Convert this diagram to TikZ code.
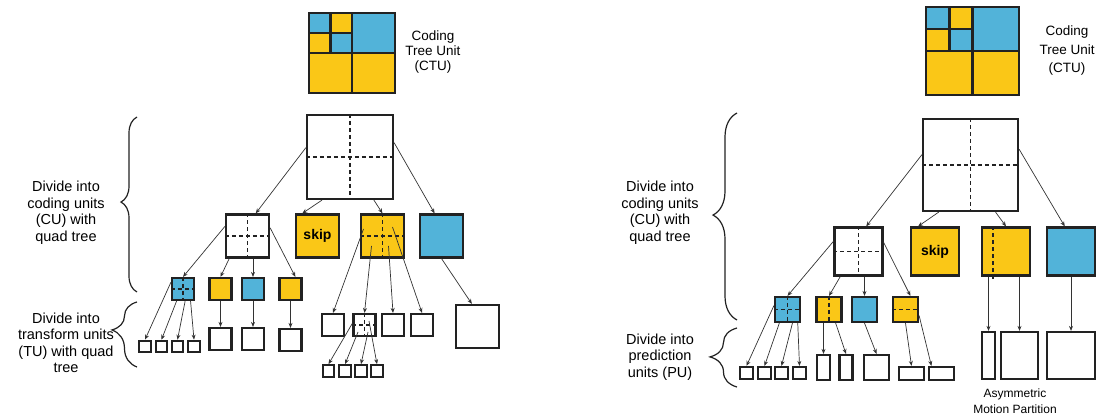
\documentclass[tikz,border=0pt]{standalone}
\usepackage{fontspec}
\setmainfont{Liberation Sans}
\usepackage{tikz}
\usetikzlibrary{arrows.meta,decorations.pathreplacing}
\definecolor{cublue}{HTML}{52B3D9}
\definecolor{cuyellow}{HTML}{FAC717}
\definecolor{edge}{HTML}{222222}

% CTU block, 86 x 80 in local units
\newcommand{\ctugrid}{%
  \fill[cublue] (0,0) rectangle (21.5,20);
  \fill[cuyellow] (21.5,0) rectangle (43,20);
  \fill[cuyellow] (0,20) rectangle (21.5,40);
  \fill[cublue] (21.5,20) rectangle (43,40);
  \fill[cublue] (43,0) rectangle (86,40);
  \fill[cuyellow] (0,40) rectangle (86,80);
  \draw[draw=edge, line width=2.5pt] (0,0) rectangle (86,80)
    (43,0) -- (43,80) (0,40) -- (86,40) (21.5,0) -- (21.5,40) (0,20) -- (43,20);
}

\begin{document}
\begin{tikzpicture}[x=1pt,y=-1pt,
  cell/.style={draw=edge, line width=2.2pt, inner sep=0pt, fill=white},
  sq/.style={minimum width=#1, minimum height=#1},
  yel/.style={cell, fill=cuyellow},
  blu/.style={cell, fill=cublue},
  dline/.style={draw=edge, line width=1.3pt, dash pattern=on 4pt off 3pt},
  arr/.style={-{Stealth[length=5pt,width=4pt]}, line width=0.7pt, draw=black!80},
  lbl/.style={align=center, font=\fontsize{14.5}{16.5}\selectfont},
  brc/.style={decorate, line width=1.2pt, draw=edge},
  skiptext/.style={font=\fontsize{14}{16}\selectfont\bfseries},
]
\useasboundingbox (0,0) rectangle (1102,419);

% ---------------- Left: transform units ----------------
\begin{scope}[shift={(309,13)}]
\ctugrid
\end{scope}
\node[align=center, font=\fontsize{13.5}{15}\selectfont] (ctuLtext) at (433,52) {Coding\\Tree Unit\\(CTU)};

% braces and labels
\draw[brc, decoration={brace, amplitude=16pt, aspect=0.514}] (137,292) -- (137,117);
\draw[brc, decoration={brace, amplitude=25pt, aspect=0.57}] (137,367) -- (137,302);
\node[lbl] (cuLtext) at (66,213) {Divide into\\coding units\\(CU) with\\quad tree};
\node[lbl] (tuLtext) at (66,343) {Divide into\\transform units\\(TU) with quad\\tree};

% CU level
\node[cell, minimum width=86pt, minimum height=84pt] (rootL) at (350,157) {};
\node[cell, sq=43pt] (cuL) at (247.5,236) {};
\node[yel, sq=43pt, skiptext] (skipL) at (317.5,236) {skip};
\node[yel, sq=43pt] (ysL) at (382.5,236) {};
\node[blu, sq=43pt] (bL) at (441.5,236) {};

\node[blu, sq=22pt] (b2a) at (183,289) {};
\node[yel, sq=22pt] (y2a) at (220.5,289) {};
\node[blu, sq=22pt] (b2b) at (253,289) {};
\node[yel, sq=22pt] (y2b) at (290.5,289) {};

% TU level
\node[cell, sq=11.5pt] (t1) at (145,346.5) {};
\node[cell, sq=11.5pt] (t2) at (161.5,346.5) {};
\node[cell, sq=11.5pt] (t3) at (177.5,346.5) {};
\node[cell, sq=11.5pt] (t4) at (194,346.5) {};
\node[cell, sq=22pt] (t5) at (220.5,339) {};
\node[cell, sq=22pt] (t6) at (253,339) {};
\node[cell, sq=22pt] (t7) at (290.5,340) {};

\node[cell, sq=22pt] (s1) at (333,325) {};
\node[cell, sq=22pt] (s2) at (364.5,325) {};
\node[cell, sq=22pt] (s3) at (393,325) {};
\node[cell, sq=22pt] (s4) at (422,325) {};
\node[cell, sq=11.5pt] (ss1) at (328.5,371) {};
\node[cell, sq=11.5pt] (ss2) at (345,371) {};
\node[cell, sq=11.5pt] (ss3) at (361,371) {};
\node[cell, sq=11.5pt] (ss4) at (377,371) {};
\node[cell, sq=43pt] (bbL) at (477.5,326.5) {};

% quad tree splits
\foreach \n in {rootL,cuL,ysL,b2a,s2}
  \draw[dline] (\n.north) -- (\n.south) (\n.west) -- (\n.east);

% arrows
\draw[arr] (rootL.168) -- (cuL.70);
\draw[arr] (rootL.237) -- (skipL.124);
\draw[arr] (rootL.299) -- (ysL.north);
\draw[arr] (rootL.18) -- (bL.107);

\draw[arr] (cuL.157) -- (b2a.north);
\draw[arr] (cuL.231) -- (y2a.north);
\draw[arr] (cuL.south -| b2b.north) -- (b2b.north);
\draw[arr] (cuL.20) -- (y2b.68);

\draw[arr] (b2a.151) -- (t1.north);
\draw[arr] (b2a.242) -- (t2.north);
\draw[arr] (b2a.280) -- (t3.north);
\draw[arr] (b2a.302) -- (t4.north);
\draw[arr] (y2a.south) -- (t5.north);
\draw[arr] (b2b.south) -- (t6.north);
\draw[arr] (y2b.south) -- (t7.north);

\draw[arr] ([xshift=-19pt,yshift=7pt]ysL.center) -- (s1.north);
\draw[arr] ([xshift=-11pt,yshift=-10pt]ysL.center) -- (s2.north);
\draw[arr] ([xshift=6pt,yshift=-10pt]ysL.center) -- (s3.north);
\draw[arr] ([xshift=10pt,yshift=9pt]ysL.center) -- (s4.north);

\draw[arr] (s2.172) -- (ss1.north);
\draw[arr] ([xshift=-6.5pt,yshift=-7pt]s2.center) -- (ss2.north);
\draw[arr] ([xshift=3.5pt,yshift=-7pt]s2.center) -- (ss3.north);
\draw[arr] ([xshift=4.5pt,yshift=4pt]s2.center) -- (ss4.north);

\draw[arr] (bL.south) -- (bbL.104);

% ---------------- Right: prediction units ----------------
\begin{scope}[shift={(926,7)}, xscale=1.081, yscale=1.1]
\ctugrid
\end{scope}
\node[align=center, font=\fontsize{13.5}{18.5}\selectfont] (ctuRtext) at (1067,51) {Coding\\Tree Unit\\(CTU)};

% braces and labels
\draw[brc, decoration={brace, amplitude=24pt, aspect=0.507}] (737,320) -- (737,113);
\draw[brc, decoration={brace, amplitude=27pt, aspect=0.51}] (737,387) -- (737,328);
\node[lbl] (cuRtext) at (660,213) {Divide into\\coding units\\(CU) with\\quad tree};
\node[lbl] (puRtext) at (660,357) {Divide into\\prediction\\units (PU)};

% CU level
\node[cell, minimum width=95pt, minimum height=92pt] (rootR) at (970.5,165) {};
\node[cell, sq=48pt] (cuR) at (858.5,251.5) {};
\node[yel, sq=48pt, skiptext] (skipR) at (935,251.5) {skip};
\node[yel, sq=48pt] (ampR) at (1006,251.5) {};
\draw[dline] ([xshift=-13pt]ampR.north) -- ([xshift=-13pt,yshift=-2pt]ampR.south);
\node[blu, sq=48pt] (bR) at (1071,251.5) {};

\node[blu, sq=25pt] (b3a) at (787.5,309.5) {};
\node[yel, sq=25pt] (y3a) at (829,309.5) {};
\draw[dline] (y3a.north) -- (y3a.south);
\node[blu, sq=25pt] (b3b) at (864.5,309.5) {};
\node[yel, sq=25pt] (y3b) at (905.5,309.5) {};
\draw[dline] (y3b.west) -- (y3b.east);

\foreach \n in {rootR,cuR,b3a}
  \draw[dline] (\n.north) -- (\n.south) (\n.west) -- (\n.east);

% PU level
\node[cell, minimum width=13pt, minimum height=12pt] (p1) at (746.5,373) {};
\node[cell, minimum width=13pt, minimum height=12pt] (p2) at (764.5,373) {};
\node[cell, minimum width=13pt, minimum height=12pt] (p3) at (781.5,373) {};
\node[cell, minimum width=13pt, minimum height=12pt] (p4) at (799.5,373) {};
\node[cell, minimum width=13pt, minimum height=25pt] (p5) at (823.5,367.5) {};
\node[cell, minimum width=13pt, minimum height=25pt] (p6) at (846,367.5) {};
\node[cell, sq=25pt] (p7) at (876.5,367.5) {};
\node[cell, minimum width=25pt, minimum height=13pt] (p8) at (911.5,373.5) {};
\node[cell, minimum width=25pt, minimum height=13pt] (p9) at (941.5,373.5) {};

\node[cell, minimum width=13pt, minimum height=47pt] (a1) at (988.5,355.5) {};
\node[cell, minimum width=37pt, minimum height=47pt] (a2) at (1019.5,355.5) {};
\node[cell, minimum width=48pt, minimum height=47pt] (bbR) at (1071,355.5) {};
\node[align=center, font=\fontsize{12}{16}\selectfont] (amptext) at (1015,401) {Asymmetric\\Motion Partition};

% arrows
\draw[arr] (rootR.168) -- (cuR.73);
\draw[arr] (rootR.236) -- (skipR.124);
\draw[arr] (rootR.298) -- (ampR.north);
\draw[arr] (rootR.18) -- (bR.104);

\draw[arr] (cuR.158) -- (b3a.north);
\draw[arr] (cuR.234) -- (y3a.north);
\draw[arr] (cuR.south -| b3b.north) -- (b3b.north);
\draw[arr] (cuR.20) -- (y3b.70);

\draw[arr] (b3a.164) -- (p1.north);
\draw[arr] (b3a.239) -- (p2.north);
\draw[arr] (b3a.290) -- (p3.north);
\draw[arr] (b3a.307) -- (p4.north);
\draw[arr] (y3a.south -| p5.north) -- (p5.north);
\draw[arr] (y3a.296) -- (p6.north);
\draw[arr] (b3b.south) -- (p7.north);
\draw[arr] (y3b.south) -- (p8.north);
\draw[arr] (y3b.336) -- (p9.143);

\draw[arr] (ampR.south -| a1.north) -- (a1.north);
\draw[arr] (ampR.south -| a2.north) -- (a2.north);
\draw[arr] (bR.south) -- (bbR.north);
\end{tikzpicture}
\end{document}
